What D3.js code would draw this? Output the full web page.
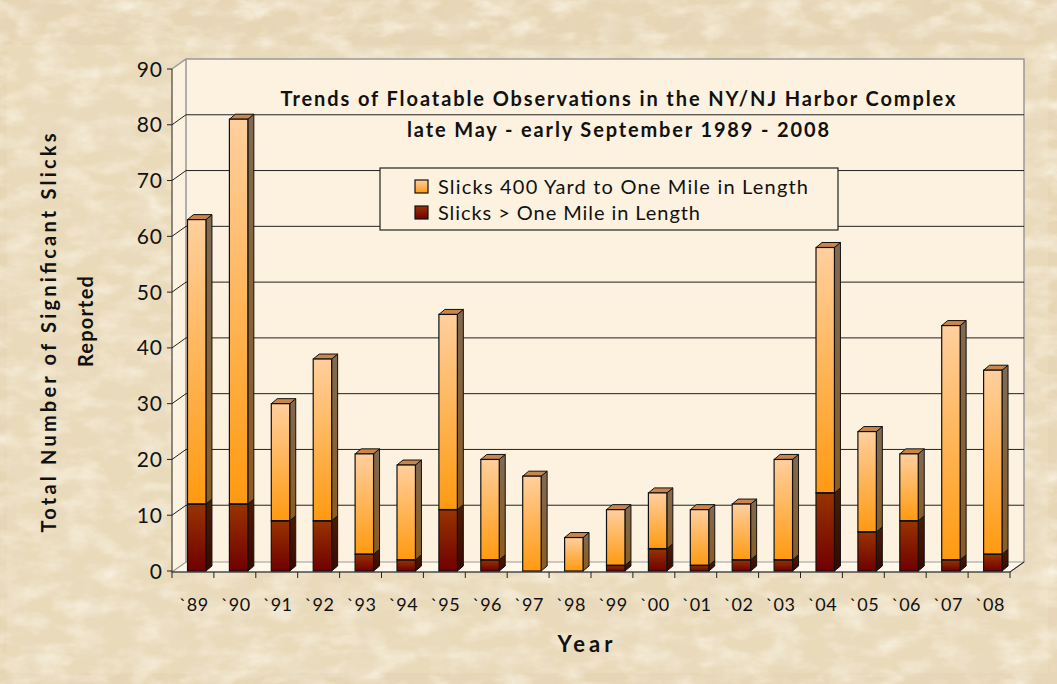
<!DOCTYPE html>
<html>
<head>
<meta charset="utf-8">
<script src="https://cdn.jsdelivr.net/npm/d3@7"></script>
<style>
  html, body { margin: 0; padding: 0; background: #e8d5b2; }
  svg { display: block; }
  text { font-family: Lato, "DejaVu Sans", sans-serif; fill: #111; }
</style>
</head>
<body>
<div id="chart"></div>
<script>
const years = ["`89","`90","`91","`92","`93","`94","`95","`96","`97","`98",
               "`99","`00","`01","`02","`03","`04","`05","`06","`07","`08"];
const totals = [63, 81, 30, 38, 21, 19, 46, 20, 17, 6, 11, 14, 11, 12, 20, 58, 25, 21, 44, 36];
const overMile = [12, 12, 9, 9, 3, 2, 11, 2, 0, 0, 1, 4, 1, 2, 2, 14, 7, 9, 2, 3];
const shortSlicks = totals.map((t, i) => t - overMile[i]);
const yTicks = [0, 10, 20, 30, 40, 50, 60, 70, 80, 90];
const seriesNames = ["Slicks 400 Yard to One Mile in Length", "Slicks > One Mile in Length"];
const titleLines = ["Trends of Floatable Observations in the NY/NJ Harbor Complex",
                    "late May - early September 1989 - 2008"];

const W = 1057, H = 684;
const pLeft = 172, pRight = 1010, pBottom = 571, pTop = 69;
const wallDx = 14, wallDy = -10;   // depth of back wall
const barDx = 6, barDy = -5;       // depth of each bar

const svg = d3.select("#chart").append("svg")
    .attr("width", W).attr("height", H);
const defs = svg.append("defs");

// paper texture
function noise(id, freq, seed, rgb, a, b) {
  const f = defs.append("filter").attr("id", id)
      .attr("x", 0).attr("y", 0).attr("width", "100%").attr("height", "100%");
  f.append("feTurbulence").attr("type", "fractalNoise")
      .attr("baseFrequency", freq).attr("numOctaves", 4).attr("seed", seed);
  f.append("feColorMatrix").attr("type", "matrix")
      .attr("values", `0 0 0 0 ${rgb[0]}  0 0 0 0 ${rgb[1]}  0 0 0 0 ${rgb[2]}  0 0 0 ${a} ${b}`);
}
noise("paperLight", "0.03 0.06", 7, [0.98, 0.94, 0.84], -1.5, 0.9);
noise("paperDark", "0.04 0.02", 11, [0.80, 0.68, 0.50], 1.6, -0.7);

function grad(id, c1, c2) {
  const g = defs.append("linearGradient").attr("id", id)
      .attr("x1", 0).attr("y1", 0).attr("x2", 0).attr("y2", 1);
  g.append("stop").attr("offset", "0%").attr("stop-color", c1);
  g.append("stop").attr("offset", "100%").attr("stop-color", c2);
}
grad("upFront", "#ffcf9e", "#ff9a10");
grad("upSide", "#806a52", "#8c5c22");
grad("loFront", "#983400", "#700000");
grad("loSide", "#4c1c04", "#380800");

// background
svg.append("rect").attr("width", W).attr("height", H).attr("fill", "#e7d6b5");
svg.append("rect").attr("width", W).attr("height", H).attr("filter", "url(#paperLight)");
svg.append("rect").attr("width", W).attr("height", H).attr("filter", "url(#paperDark)");
svg.append("rect").attr("x", 7).attr("y", 45).attr("width", 1041).attr("height", 628)
    .attr("fill", "#f5ead2").attr("opacity", 0.2);

const x = d3.scaleBand().domain(years).range([pLeft, pRight]);
const y = d3.scaleLinear().domain([0, 90]).range([pBottom, pTop]);

// walls
const wall = svg.append("g");
wall.append("path")
    .attr("d", `M${pLeft},${y(90)} L${pLeft + wallDx},${y(90) + wallDy} L${pRight + wallDx},${y(90) + wallDy} L${pRight + wallDx},${y(0) + wallDy + 1} L${pLeft + wallDx},${y(0) + wallDy + 1} L${pLeft},${y(0) + 1}Z`)
    .attr("fill", "#fcf2df").attr("stroke", "none");
wall.append("path")
    .attr("d", `M${pLeft},${y(0) + 1} L${pRight},${y(0) + 1} L${pRight + wallDx},${y(0) + 1 + wallDy} L${pLeft + wallDx},${y(0) + 1 + wallDy}Z`)
    .attr("fill", "#fff8ea").attr("stroke", "#999").attr("stroke-width", 1.2);
wall.append("path")
    .attr("d", `M${pLeft},${y(90)} L${pLeft + wallDx},${y(90) + wallDy} L${pRight + wallDx},${y(90) + wallDy} L${pRight + wallDx},${y(0) + wallDy + 1} M${pLeft + wallDx},${y(90) + wallDy} L${pLeft + wallDx},${y(0) + wallDy + 1}`)
    .attr("fill", "none").attr("stroke", "#999").attr("stroke-width", 1.5);

// gridlines on side and back walls
const grid = svg.append("g").attr("stroke", "#222").attr("stroke-width", 1).attr("fill", "none");
grid.selectAll("path").data(yTicks.filter(d => d > 0 && d < 90)).join("path")
    .attr("d", d => `M${pLeft},${y(d)} L${pLeft + wallDx},${y(d) + wallDy} L${pRight + wallDx},${y(d) + wallDy}`);

// y axis
const yAxis = svg.append("g");
yAxis.append("line").attr("x1", pLeft).attr("x2", pLeft).attr("y1", y(0) + 1).attr("y2", y(90))
    .attr("stroke", "#222");
yAxis.selectAll("line.tick").data(yTicks).join("line").attr("class", "tick")
    .attr("x1", pLeft - 5).attr("x2", pLeft).attr("y1", d => y(d)).attr("y2", d => y(d))
    .attr("stroke", "#222");
yAxis.selectAll("text").data(yTicks).join("text")
    .attr("x", pLeft - 9).attr("y", d => y(d) + 7.5)
    .attr("text-anchor", "end").attr("font-size", 21).attr("letter-spacing", 1).text(d => d);

// x axis
const xAxis = svg.append("g");
xAxis.append("line").attr("x1", pLeft).attr("x2", pRight).attr("y1", y(0) + 1).attr("y2", y(0) + 1)
    .attr("stroke", "#222");
xAxis.append("line").attr("x1", pRight).attr("x2", pRight + wallDx)
    .attr("y1", y(0) + 1).attr("y2", y(0) + 1 + wallDy).attr("stroke", "#222");
xAxis.selectAll("line.tick").data(years.concat(["end"])).join("line").attr("class", "tick")
    .attr("x1", (d, i) => pLeft + i * x.bandwidth()).attr("x2", (d, i) => pLeft + i * x.bandwidth())
    .attr("y1", y(0) + 1).attr("y2", y(0) + 7).attr("stroke", "#222");
xAxis.selectAll("text").data(years).join("text")
    .attr("x", d => x(d) + x.bandwidth() / 2 + 1).attr("y", 611)
    .attr("text-anchor", "middle").attr("font-size", 18).attr("letter-spacing", 0.5).text(d => d);

// bars
const bw = x.bandwidth() * 0.44;
const bx = d => x(d) + x.bandwidth() * 0.37;
function box(g, x0, y0, y1, front, side, drawTop) {
  // y0 bottom value pixel, y1 top value pixel
  g.append("path")
      .attr("d", `M${x0 + bw},${y0} L${x0 + bw + barDx},${y0 + barDy} L${x0 + bw + barDx},${y1 + barDy} L${x0 + bw},${y1}Z`)
      .attr("fill", side).attr("stroke", "#111").attr("stroke-width", 1).attr("stroke-linejoin", "round");
  if (drawTop) {
    g.append("path")
        .attr("d", `M${x0},${y1} L${x0 + barDx},${y1 + barDy} L${x0 + bw + barDx},${y1 + barDy} L${x0 + bw},${y1}Z`)
        .attr("fill", "#c8854c").attr("stroke", "#111").attr("stroke-width", 1);
  }
  g.append("rect").attr("x", x0).attr("y", y1).attr("width", bw).attr("height", Math.max(0, y0 - y1))
      .attr("fill", front).attr("stroke", "#111").attr("stroke-width", 1.2);
}
const bars = svg.append("g");
years.forEach((yr, i) => {
  const g = bars.append("g");
  const x0 = bx(yr);
  if (overMile[i] > 0) {
    box(g, x0, y(0), y(overMile[i]), "url(#loFront)", "url(#loSide)", false);
  }
  box(g, x0, y(overMile[i]), y(overMile[i] + shortSlicks[i]), "url(#upFront)", "url(#upSide)", true);
  if (overMile[i] > 0) {
    g.append("line").attr("x1", x0).attr("x2", x0 + bw)
        .attr("y1", y(overMile[i])).attr("y2", y(overMile[i]))
        .attr("stroke", "#111").attr("stroke-width", 1.5);
  }
});

// title
const titleWidths = [675, 422];
svg.selectAll("text.title").data(titleLines).join("text").attr("class", "title")
    .attr("x", 618).attr("y", (d, i) => 106 + i * 31)
    .attr("text-anchor", "middle").attr("font-size", 20).attr("font-weight", "bold")
    .attr("textLength", (d, i) => titleWidths[i]).attr("lengthAdjust", "spacing")
    .text(d => d);

// legend
const legend = svg.append("g");
legend.append("rect").attr("x", 380).attr("y", 168).attr("width", 458).attr("height", 62)
    .attr("fill", "#fcf2df").attr("stroke", "#222").attr("stroke-width", 1.2);
const legFills = ["url(#upFront)", "url(#loFront)"];
const legWidths = [370, 262];
legend.selectAll("rect.sw").data(seriesNames).join("rect").attr("class", "sw")
    .attr("x", 415).attr("y", (d, i) => 180 + i * 26).attr("width", 13).attr("height", 13)
    .attr("fill", (d, i) => legFills[i]).attr("stroke", "#111").attr("stroke-width", 1.2);
legend.selectAll("text").data(seriesNames).join("text")
    .attr("x", 438).attr("y", (d, i) => 193.5 + i * 26)
    .attr("font-size", 20)
    .attr("textLength", (d, i) => legWidths[i]).attr("lengthAdjust", "spacing")
    .text(d => d);

// axis titles
svg.append("text").attr("transform", "translate(56,333) rotate(-90)")
    .attr("text-anchor", "middle").attr("font-size", 20).attr("font-weight", "bold")
    .attr("textLength", 399).attr("lengthAdjust", "spacing")
    .text("Total Number of Significant Slicks");
svg.append("text").attr("transform", "translate(93,321) rotate(-90)")
    .attr("text-anchor", "middle").attr("font-size", 20).attr("font-weight", "bold")
    .attr("letter-spacing", 1.2)
    .text("Reported");
svg.append("text").attr("x", 585).attr("y", 652)
    .attr("text-anchor", "middle").attr("font-size", 22).attr("font-weight", "bold")
    .attr("textLength", 55).attr("lengthAdjust", "spacing")
    .text("Year");
</script>
</body>
</html>
